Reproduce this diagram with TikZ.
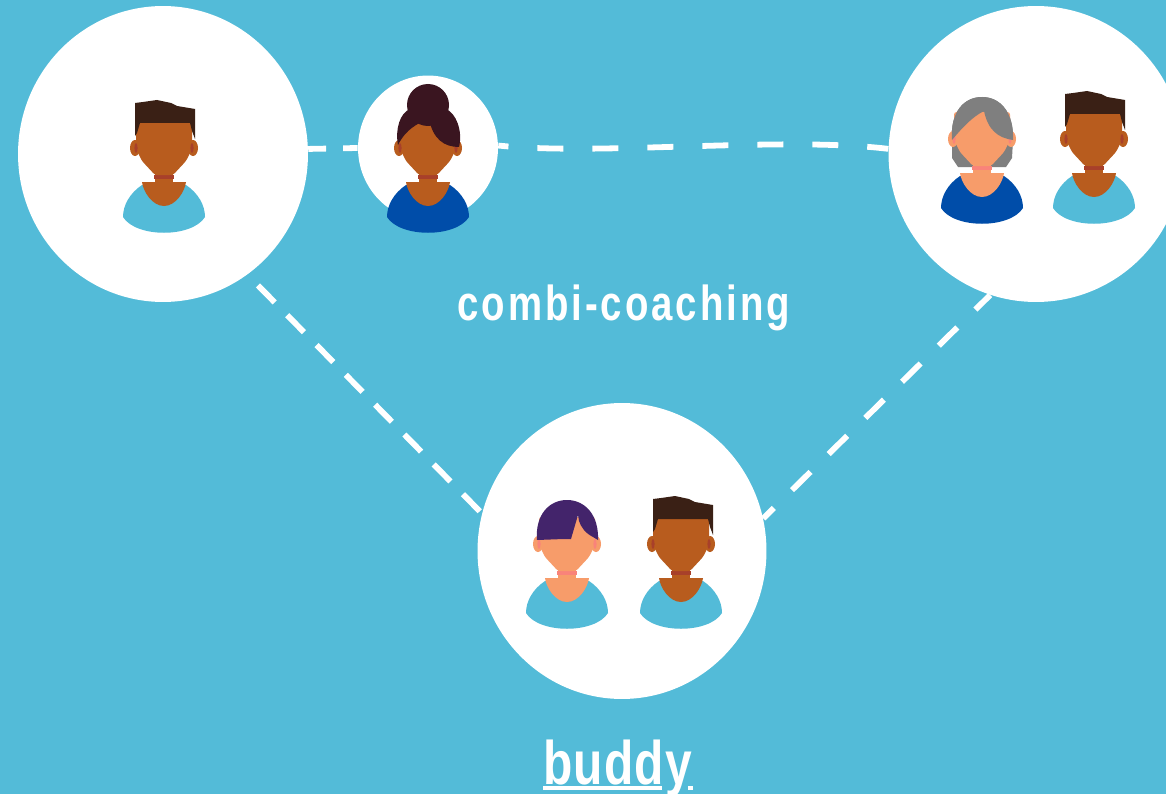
\documentclass[tikz,border=0pt]{standalone}
\usepackage{fontspec}
\usetikzlibrary{shapes.geometric}
\newfontfamily\labelfont[FakeStretch=0.78,LetterSpace=6]{Liberation Sans Bold}
\newfontfamily\buddyfont[FakeStretch=0.78,LetterSpace=2]{Liberation Sans Bold}
\definecolor{sky}{HTML}{53BBD8}
\definecolor{royal}{HTML}{004DA9}
\definecolor{brownskin}{HTML}{B85C1E}
\definecolor{brownneck}{HTML}{A8402A}
\definecolor{paleskin}{HTML}{F79C6A}
\definecolor{paleneck}{HTML}{F9837A}
\definecolor{darkhair}{HTML}{3A2015}
\definecolor{bunhair}{HTML}{3A1520}
\definecolor{violethair}{HTML}{43246B}
\definecolor{greyhair}{HTML}{7F7F7F}
\tikzset{
  disc/.style={ellipse,fill=white,inner sep=0pt},
  link/.style={white,line width=3.3pt,dash pattern=on 14.8pt off 16.5pt},
  textlabel/.style={white,inner sep=0pt,anchor=base west},
  uline/.style={white,line width=1.9pt},
  pics/bust/.style n args={3}{code={
    \fill[#3] (-22,4) .. controls (-34,12) and (-41,24) .. (-41,36)
      .. controls (-28,57) and (28,57) .. (41,36)
      .. controls (41,24) and (34,12) .. (22,4) -- cycle;
    \fill[#1] (-9,-12) rectangle (9,4);
    \fill[#2] (-10,-6) rectangle (10,-2);
    \fill[#1] (-22,1) -- (22,1) .. controls (21,10) and (12,25) .. (0,25)
      .. controls (-12,25) and (-21,10) .. (-22,1) -- cycle;
    \fill[#1] (-29,-33) ellipse [x radius=5,y radius=8];
    \fill[#1] (29,-33) ellipse [x radius=5,y radius=8];
    \fill[#1,rounded corners=1.5pt] (-28,-60) -- (28,-60) -- (28,-32) -- (22,-20) -- (9,-6) -- (-9,-6) -- (-22,-20) -- (-28,-32) -- cycle;
    \fill[#2] (-28,-33) ellipse [x radius=1.6,y radius=5];
    \fill[#2] (28,-33) ellipse [x radius=1.6,y radius=5];
  }},
  pics/shorthair/.style={code={
    \fill[darkhair] (-30,-78) -- (-22,-79) -- (-8,-81) -- (6,-78) -- (12,-75) -- (30,-72)
      -- (30,-42) -- (27,-50) -- (25,-58) -- (-25,-58) -- (-28,-48) -- (-30,-45) -- cycle;
  }},
  pics/bunhair/.style={code={
    \fill[bunhair] (0,-76) circle [radius=21];
    \fill[bunhair] (-30,-36) .. controls (-33,-52) and (-28,-68) .. (-18,-72)
      -- (18,-72) .. controls (28,-68) and (35,-50) .. (31,-34)
      .. controls (16,-34) and (5,-42) .. (1,-62)
      .. controls (-10,-58) and (-22,-52) .. (-30,-36) -- cycle;
  }},
  pics/greyback/.style={code={
    \fill[greyhair] (-30,-32) .. controls (-32,-60) and (-18,-75) .. (0,-75)
      .. controls (18,-75) and (32,-60) .. (31,-32)
      -- (30,-14) -- (24,-5) -- (-24,-5) -- (-30,-14) -- cycle;
  }},
  pics/greyfront/.style={code={
    \fill[greyhair] (-30,-32) .. controls (-32,-60) and (-18,-75) .. (0,-75)
      .. controls (18,-75) and (32,-60) .. (31,-32)
      .. controls (16,-34) and (6,-42) .. (2,-61)
      .. controls (-10,-55) and (-20,-44) .. (-30,-32) -- cycle;
  }},
  pics/fringehair/.style={code={
    \fill[violethair] (-30,-37) .. controls (-32,-62) and (-18,-77) .. (0,-77)
      .. controls (18,-77) and (32,-62) .. (31,-37)
      -- (26,-40) .. controls (18,-44) and (14,-50) .. (12,-56)
      -- (11,-62) -- (4,-38) -- (-3,-38) -- cycle;
  }}
}

\begin{document}
\begin{tikzpicture}[x=0.02cm,y=-0.02cm]
\clip (0,0) rectangle (1166,794);
\fill[sky] (0,0) rectangle (1166,794);

\node[disc,minimum width=5.8cm,minimum height=5.92cm] (solo) at (163,154) {};
\node[disc,minimum width=2.8cm,minimum height=2.9cm] (single) at (428,148) {};
\node[disc,minimum width=5.9cm,minimum height=5.92cm] (pair) at (1036,154) {};
\node[disc,minimum width=5.78cm,minimum height=5.92cm] (buddies) at (622,551) {};

\draw[link,dash pattern=on 10.2pt off 9.7pt] (solo.2) -- (single.west);
\draw[link,dash phase=9pt] (single.2) .. controls (600,156) and (780,136) .. (pair.178);
\draw[link,dash pattern=on 13.6pt off 10.2pt,dash phase=15.3pt] (solo.-55) -- (buddies.165);
\draw[link,dash pattern=on 14.8pt off 14.5pt,dash phase=3pt] (pair.252) -- (buddies.13);

\path (164,181) pic {bust={brownskin}{brownneck}{sky}};
\path (165,181) pic {shorthair};

\path (428,181) pic {bust={brownskin}{brownneck}{royal}};
\path (428,181) pic {bunhair};

\path (982,172) pic {greyback};
\path (982,172) pic {bust={paleskin}{paleneck}{royal}};
\path (982,172) pic {greyfront};
\path (1094,172) pic {bust={brownskin}{brownneck}{sky}};
\path (1095,172) pic {shorthair};

\path (567,577) pic {bust={paleskin}{paleneck}{sky}};
\path (567,577) pic {fringehair};
\path (681,577) pic {bust={brownskin}{brownneck}{sky}};
\path (683,577) pic {shorthair};

\node[textlabel] (combilabel) at (457,320) {\labelfont\fontsize{28}{28}\selectfont combi-coaching};
\node[textlabel] (buddylabel) at (543,784) {\buddyfont\fontsize{35}{35}\selectfont buddy};

\coordinate (ulstart) at (543,788);
\coordinate (ulend) at (662,788);
\coordinate (tailstart) at (688,788);
\coordinate (tailend) at (693,788);
\draw[uline] (ulstart) -- (ulend);
\draw[uline] (tailstart) -- (tailend);
\end{tikzpicture}
\end{document}
